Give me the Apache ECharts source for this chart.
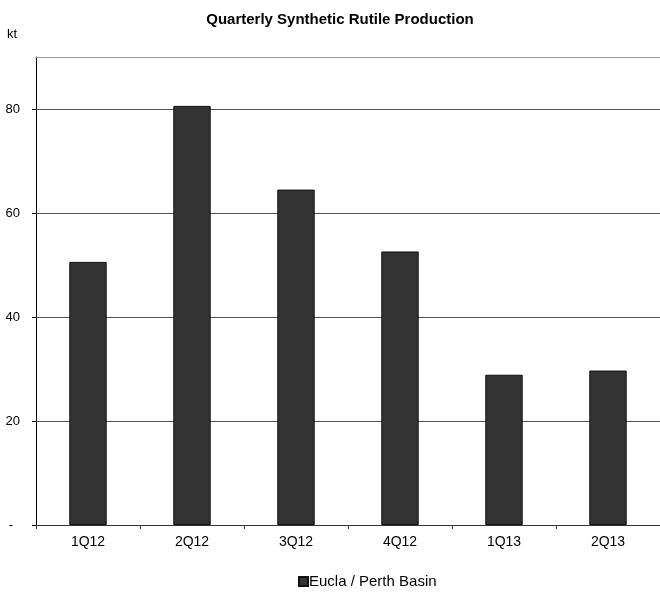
<!DOCTYPE html>
<html><head><meta charset="utf-8">
<script src="https://cdn.jsdelivr.net/npm/echarts@6/dist/echarts.min.js"></script>
<style>html,body{margin:0;padding:0;background:#fff}#c{width:660px;height:592px}</style>
</head><body><div id="c"></div>
<script>
const categories = ['1Q12','2Q12','3Q12','4Q12','1Q13','2Q13'];
const seriesName = 'Eucla / Perth Basin';
const values = [50.6, 80.6, 64.5, 52.6, 28.9, 29.7];
const yTicks = [0, 20, 40, 60, 80];

const chart = echarts.init(document.getElementById('c'), null, {renderer:'canvas'});
const F = 'Liberation Sans, Arial, sans-serif';
chart.setOption({
  animation:false,
  backgroundColor:'#fff',
  title:{text:'Quarterly Synthetic Rutile Production', left:335, textAlign:'center', top:7,
    textStyle:{fontFamily:F, fontSize:15, fontWeight:'bold', color:'#000'}},
  graphic:[{type:'text', left:7, top:28, style:{text:'kt', font:'13px Liberation Sans', fill:'#000'}}],
  grid:{left:36, right:-1, top:57, bottom:67, containLabel:false, show:false},
  legend:{top:569, left:293, itemWidth:9, itemHeight:9, itemGap:4,
    icon:'rect', textStyle:{fontFamily:F, fontSize:15, color:'#000', padding:[0,0,0,-4]},
    data:[seriesName]},
  xAxis:[{type:'category', data:categories, boundaryGap:true, position:'bottom',
    axisLine:{lineStyle:{color:'#333', width:1}},
    axisTick:{show:true, length:4, alignWithLabel:false, lineStyle:{color:'#333'}},
    axisLabel:{fontFamily:F, fontSize:14, color:'#000', margin:10}},
   {type:'category', data:categories, position:'top',
    axisLine:{show:true, lineStyle:{color:'#9a9a9a', width:1}},
    axisTick:{show:false}, axisLabel:{show:false}, splitLine:{show:false}}],
  yAxis:{type:'value', min:0, max:90, interval:20,
    axisLine:{show:true, lineStyle:{color:'#000', width:1}},
    axisTick:{show:true, length:4, customValues:yTicks, lineStyle:{color:'#000'}},
    splitLine:{show:true, lineStyle:{color:'#555', width:1}},
    axisLabel:{fontFamily:F, fontSize:13, color:'#000', margin:16, customValues:yTicks,
      formatter:function(v){ if (yTicks.indexOf(v) < 0) return ''; return v === 0 ? '{d|-}' : String(v); },
      rich:{d:{fontFamily:F, fontSize:13, color:'#000', padding:[0,7,0,0]}}}},
  series:[{name:seriesName, type:'bar', data:values, barWidth:'36%', xAxisIndex:0,
    itemStyle:{color:'#333333', borderColor:'#111', borderWidth:1}}]
});
</script></body></html>
